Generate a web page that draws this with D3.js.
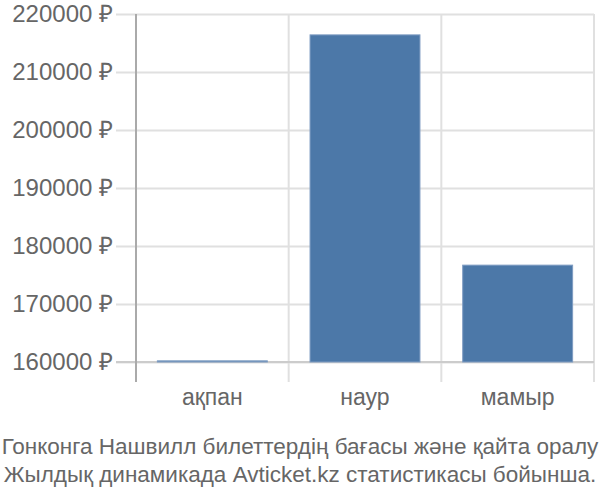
<!DOCTYPE html>
<html>
<head>
<meta charset="utf-8">
<script src="https://cdn.jsdelivr.net/npm/d3@7"></script>
<style>
  body { margin: 0; background: #fff; }
  svg text { font-family: "Liberation Sans", Arial, sans-serif; fill: #666; }
</style>
</head>
<body>
<svg class="chart" width="600" height="500"></svg>
<script>
const months = ['ақпан', 'наур', 'мамыр']
const prices = [160200, 216400, 176700]
const yTicks = [160000, 170000, 180000, 190000, 200000, 210000, 220000]
const titleLines = [
  'Гонконга Нашвилл билеттердің бағасы және қайта оралу',
  'Жылдық динамикада Avticket.kz статистикасы бойынша.'
]

const svg = d3.select('svg.chart')

const plotLeft = 136, plotRight = 594, plotTop = 14, plotBottom = 362

const x = d3.scaleBand().domain(months).range([plotLeft, plotRight])
  .paddingInner(0.28).paddingOuter(0.14)
const y = d3.scaleLinear().domain([160000, 220000]).range([plotBottom, plotTop])

// horizontal grid + y ticks
const yAxis = d3.axisLeft(y)
  .tickValues(yTicks)
  .tickSize(plotRight - plotLeft + 20)
  .tickPadding(3)
  .tickFormat(d => d + ' ₽')

svg.append('g')
  .attr('transform', `translate(${plotRight}, 0)`)
  .call(yAxis)
  .call(g => g.select('.domain').remove())
  .call(g => g.selectAll('line').attr('stroke', '#e0e0e0').attr('stroke-width', 2))
  .call(g => g.selectAll('text').attr('font-size', 24).attr('fill', '#666').attr('font-family', null))

// vertical grid lines at band edges
const edges = d3.range(months.length + 1).map(i => plotLeft + i * x.step())
svg.append('g')
  .selectAll('line')
  .data(edges)
  .enter()
  .append('line')
  .attr('x1', d => d).attr('x2', d => d)
  .attr('y1', plotTop).attr('y2', plotBottom + 20)
  .attr('stroke', '#e0e0e0')
  .attr('stroke-width', 2)

// baseline
svg.append('line')
  .attr('x1', plotLeft - 20).attr('x2', plotRight)
  .attr('y1', y(160000)).attr('y2', y(160000))
  .attr('stroke', '#ccc').attr('stroke-width', 2)

// y axis line
svg.append('line')
  .attr('x1', plotLeft).attr('x2', plotLeft)
  .attr('y1', plotTop).attr('y2', plotBottom + 20)
  .attr('stroke', '#aaa').attr('stroke-width', 2)

svg.append('g')
  .selectAll('rect')
  .data(prices)
  .enter()
  .append('rect')
  .attr('x', (d, i) => x(months[i]))
  .attr('y', d => y(d))
  .attr('width', x.bandwidth())
  .attr('height', d => y(160000) - y(d))
  .attr('fill', '#4c78a8')
  .attr('stroke', '#7e9cc2')
  .attr('stroke-width', 1)

svg.append('g')
  .selectAll('text')
  .data(months)
  .enter()
  .append('text')
  .attr('x', d => x(d) + x.bandwidth() / 2)
  .attr('y', 405)
  .attr('text-anchor', 'middle')
  .attr('font-size', 23)
  .text(d => d)

svg.append('g')
  .selectAll('text')
  .data(titleLines)
  .enter()
  .append('text')
  .attr('x', 300)
  .attr('y', (d, i) => 454 + i * 28)
  .attr('text-anchor', 'middle')
  .attr('font-size', 22.5)
  .text(d => d)
</script>
</body>
</html>
